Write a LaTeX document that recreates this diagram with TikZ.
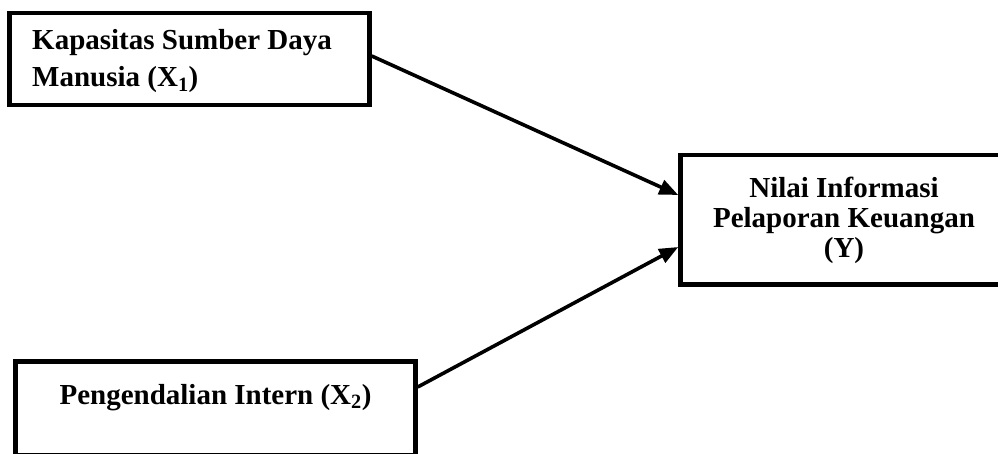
\documentclass[tikz,border=0pt]{standalone}
\usepackage{fontspec}
\setmainfont{Liberation Serif}
\usetikzlibrary{arrows.meta}
\begin{document}
\begin{tikzpicture}[x=1pt,y=1pt,
  boxnode/.style={draw=black, line width=4.5pt, rectangle, inner sep=0pt, fill=none},
  txt/.style={inner sep=0pt, font=\bfseries\fontsize{29}{37}\selectfont},
  arr/.style={line width=3.6pt, -{Triangle[length=19pt,width=15pt]}}]
\useasboundingbox (0,0) rectangle (998,453);
\begin{scope}
\clip (0,0) rectangle (998,453);
\node[boxnode, minimum width=360pt, minimum height=92pt] (b1) at (189.5,394) {};
\node[boxnode, minimum width=329.5pt, minimum height=129.5pt] (bY) at (845.25,233.25) {};
\node[boxnode, minimum width=400pt, minimum height=94pt] (b2) at (215.5,44.5) {};
\end{scope}
\node[txt, align=left, anchor=base west] (t1) at (32,366) {Kapasitas Sumber Daya\\Manusia (X\textsubscript{1})};
\node[txt, align=center, anchor=base, font=\bfseries\fontsize{29}{30}\selectfont] (tY) at (844,196) {Nilai Informasi\\Pelaporan Keuangan\\(Y)};
\node[txt, anchor=base] (t2) at (215.5,49) {Pengendalian Intern (X\textsubscript{2})};
\draw[arr] ([yshift=3pt]b1.east) -- ([yshift=24.75pt]bY.west);
\draw[arr] ([yshift=21.5pt]b2.east) -- ([yshift=-27.25pt]bY.west);
\end{tikzpicture}
\end{document}
